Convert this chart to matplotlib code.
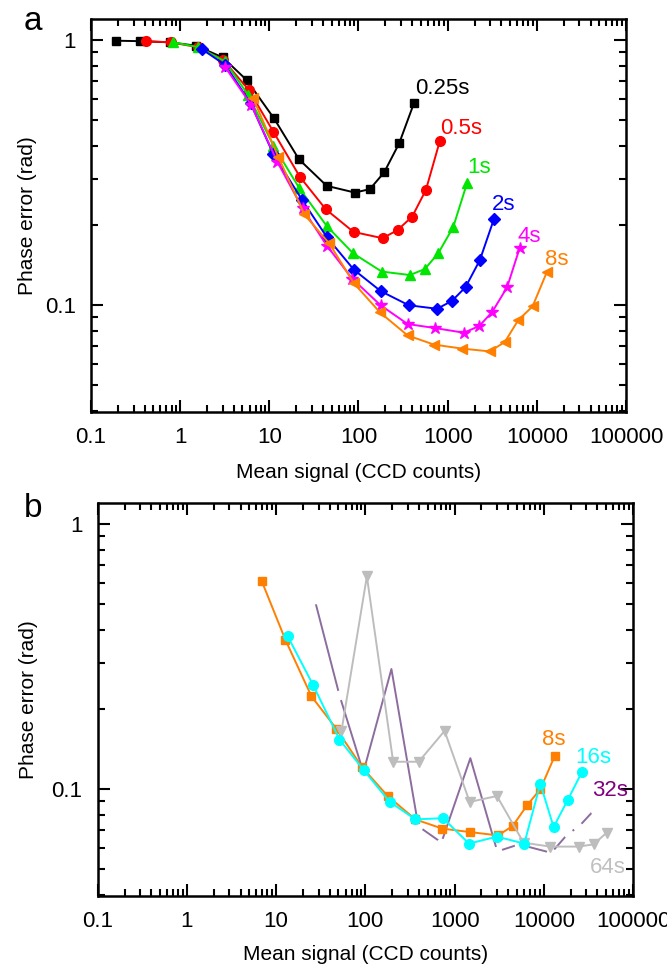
import matplotlib

matplotlib.use("Agg")
import matplotlib.pyplot as plt
from matplotlib.ticker import LogLocator, NullFormatter


plt.rcParams["font.family"] = ["Liberation Sans", "DejaVu Sans"]

FIG_W, FIG_H = 667, 967

X_TICKS = [0.1, 1, 10, 100, 1000, 10000, 100000]
X_TICK_LABELS = ["0.1", "1", "10", "100", "1000", "10000", "100000"]
Y_TICKS = [0.1, 1]
Y_TICK_LABELS = ["0.1", "1"]

# --- panel a: exposure times 0.25s ... 8s
a_x_025 = [0.19, 0.35, 0.77, 1.5, 3.0, 5.6, 11.3, 21.5, 44, 91, 134, 194, 286, 418]
a_y_025 = [0.994, 0.99, 0.98, 0.952, 0.86, 0.705, 0.506, 0.355, 0.282, 0.266, 0.274, 0.317, 0.408, 0.577]

a_x_05 = [0.41, 0.78, 1.6, 3.04, 5.9, 11.1, 22, 43, 88, 186, 274, 400, 570, 818]
a_y_05 = [0.99, 0.98, 0.939, 0.84, 0.648, 0.451, 0.305, 0.23, 0.189, 0.179, 0.192, 0.216, 0.272, 0.417]

a_x_1 = [0.84, 1.6, 3.18, 5.8, 11.1, 21.6, 44, 87, 182, 377, 555, 783, 1153, 1656]
a_y_1 = [0.98, 0.94, 0.83, 0.62, 0.40, 0.277, 0.199, 0.157, 0.134, 0.13, 0.137, 0.157, 0.197, 0.29]

a_x_2 = [1.74, 3.2, 6.17, 11.1, 23.4, 44, 89, 178, 367, 763, 1122, 1585, 2296, 3297]
a_y_2 = [0.925, 0.805, 0.577, 0.371, 0.249, 0.181, 0.136, 0.113, 0.1, 0.097, 0.104, 0.117, 0.148, 0.211]

a_x_4 = [3.2, 6.3, 12.3, 23.6, 44, 85, 177, 355, 730, 1520, 2256, 3155, 4645, 6440]
a_y_4 = [0.79, 0.568, 0.347, 0.232, 0.168, 0.126, 0.1, 0.085, 0.082, 0.0788, 0.0835, 0.0943, 0.117, 0.165]

a_x_8 = [6.6, 12.6, 24.7, 47, 89, 174, 355, 700, 1432, 2972, 4375, 6170, 8950, 13030]
a_y_8 = [0.603, 0.363, 0.22, 0.171, 0.121, 0.094, 0.077, 0.0711, 0.0687, 0.067, 0.0727, 0.0878, 0.099, 0.134]

a_labels = ["0.25s", "0.5s", "1s", "2s", "4s", "8s"]
a_label_x = [429, 818, 1640, 3133, 6120, 12300]
a_label_y = [0.659, 0.462, 0.332, 0.24, 0.181, 0.149]

# --- panel b: exposure times 8s ... 64s
b_x_8 = [6.87, 12.7, 24.9, 47.4, 92, 178, 364, 725, 1476, 3070, 4480, 6490, 9140, 13200]
b_y_8 = [0.611, 0.366, 0.224, 0.169, 0.121, 0.0943, 0.077, 0.0711, 0.069, 0.067, 0.0727, 0.087, 0.1, 0.133]

b_x_16 = [13.5, 26, 51.3, 95.9, 188, 364, 743, 1450, 2985, 6050, 9140, 12880, 18470, 26740]
b_y_16 = [0.377, 0.247, 0.154, 0.118, 0.0896, 0.077, 0.0778, 0.0624, 0.0663, 0.0624, 0.105, 0.0721, 0.0909, 0.116]

b_x_32 = [27, 51.3, 95, 196, 393, 712, 1503, 3013, 5270, 12140, 18800, 24320, 37100]
b_y_32 = [0.52, 0.226, 0.116, 0.284, 0.0725, 0.063, 0.131, 0.0583, 0.062, 0.0576, 0.0682, 0.0719, 0.0838]

b_x_64 = [54, 104, 205, 396, 773, 1476, 2985, 5940, 11830, 24550, 36100, 50960]
b_y_64 = [0.166, 0.635, 0.127, 0.127, 0.166, 0.0896, 0.0943, 0.0629, 0.0608, 0.0608, 0.062, 0.0687]

b_labels = ["8s", "16s", "32s", "64s"]
b_label_x = [9550, 22540, 34670, 33200]
b_label_y = [0.154, 0.132, 0.0986, 0.0506]


def style_axis(ax):
    ax.set_xscale("log")
    ax.set_yscale("log")
    ax.set_xlim(0.1, 100000)
    ax.set_ylim(0.0396, 1.2)
    ax.set_xticks(X_TICKS)
    ax.set_xticklabels(X_TICK_LABELS)
    ax.set_yticks(Y_TICKS)
    ax.set_yticklabels(Y_TICK_LABELS)
    ax.xaxis.set_minor_locator(LogLocator(base=10, subs=range(2, 10), numticks=20))
    ax.yaxis.set_minor_locator(LogLocator(base=10, subs=range(2, 10), numticks=20))
    ax.xaxis.set_minor_formatter(NullFormatter())
    ax.yaxis.set_minor_formatter(NullFormatter())
    ax.tick_params(which="both", direction="in", top=True, right=True, width=1.5, labelsize=16)
    ax.tick_params(which="major", length=8.5)
    ax.tick_params(which="minor", length=4.8)
    ax.tick_params(axis="x", pad=11)
    ax.tick_params(axis="y", pad=11)
    for sp in ax.spines.values():
        sp.set_linewidth(1.8)
    ax.set_xlabel("Mean signal (CCD counts)", fontsize=15)
    ax.set_ylabel("Phase error (rad)", fontsize=15)


def draw_panel_a(ax):
    series = [
        (a_x_025, a_y_025, "black", "s", 6),
        (a_x_05, a_y_05, "#ff0000", "o", 7),
        (a_x_1, a_y_1, "#00e600", "^", 7.5),
        (a_x_2, a_y_2, "#0000ff", "D", 6),
        (a_x_4, a_y_4, "#ff00ff", "*", 9),
        (a_x_8, a_y_8, "#ff8000", "<", 7.5),
    ]
    for (x, y, color, marker, ms), label, lx, ly in zip(series, a_labels, a_label_x, a_label_y):
        ax.plot(x, y, color=color, marker=marker, markersize=ms, linewidth=1.4)
        ax.text(lx, ly, label, color=color, fontsize=16, ha="left", va="center")
    style_axis(ax)


def draw_panel_b(ax):
    # 32s trace: white dots hide the line round most of its points
    hidden = [i for i in range(len(b_x_32)) if i not in (3, 6)]
    ax.plot(b_x_32, b_y_32, color="#8c6d9e", linewidth=1.4, marker="o", markersize=6,
            markerfacecolor="white", markeredgecolor="white", markevery=hidden)
    ax.plot(b_x_8, b_y_8, color="#ff8000", marker="s", markersize=6, linewidth=1.4)
    ax.plot(b_x_64, b_y_64, color="#bdbdbd", marker="v", markersize=7.5, linewidth=1.4)
    ax.plot(b_x_16, b_y_16, color="#00ffff", marker="o", markersize=7, linewidth=1.4)

    label_colors = ["#ff8000", "#00ffff", "#800080", "#c0c0c0"]
    for label, lx, ly, c in zip(b_labels, b_label_x, b_label_y, label_colors):
        ax.text(lx, ly, label, color=c, fontsize=16, ha="left", va="center")
    style_axis(ax)


def main():
    fig = plt.figure(figsize=(FIG_W / 100, FIG_H / 100), dpi=100)

    ax_a = fig.add_axes([91 / FIG_W, 1 - 412 / FIG_H, 535 / FIG_W, 393 / FIG_H])
    ax_b = fig.add_axes([97.7 / FIG_W, 1 - 896 / FIG_H, 535.3 / FIG_W, 393 / FIG_H])

    draw_panel_a(ax_a)
    draw_panel_b(ax_b)

    ax_a.xaxis.set_label_coords(0.5, -0.13)
    ax_b.xaxis.set_label_coords(0.5, -0.125)
    ax_a.yaxis.set_label_coords(-0.1, 0.5)
    ax_b.yaxis.set_label_coords(-0.112, 0.5)

    fig.text(33 / FIG_W, 1 - 30 / FIG_H, "a", fontsize=24, ha="center", va="baseline")
    fig.text(33 / FIG_W, 1 - 516.7 / FIG_H, "b", fontsize=24, ha="center", va="baseline")

    fig.savefig("out.png", dpi=100)
    plt.close(fig)


if __name__ == "__main__":
    main()
